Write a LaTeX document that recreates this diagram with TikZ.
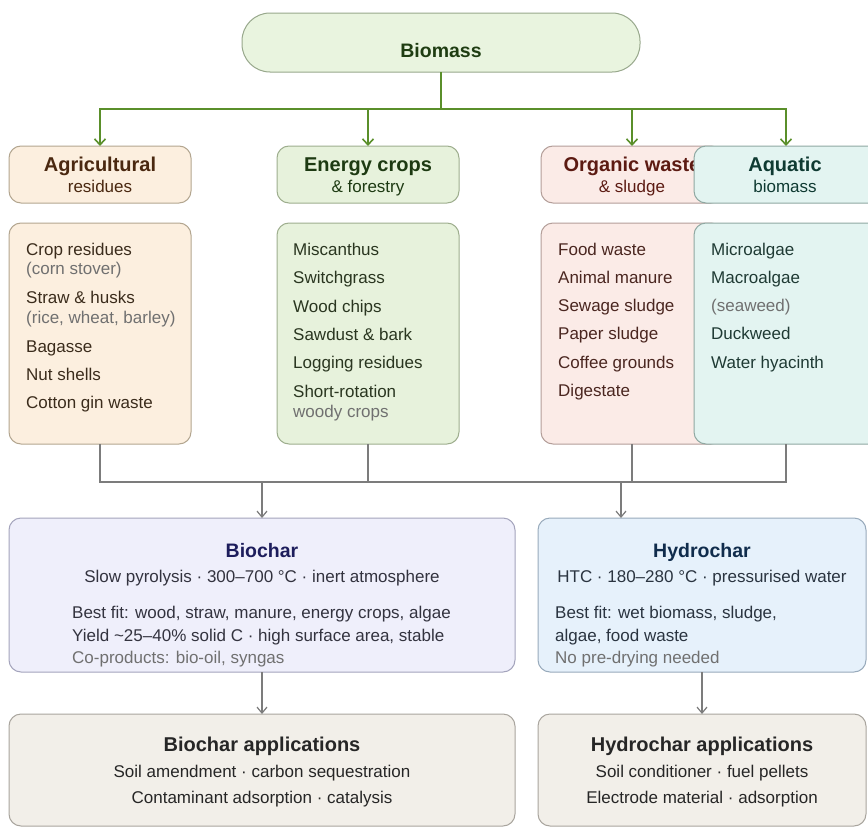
\documentclass[tikz,border=0pt]{standalone}
\usepackage{fontspec}
\setmainfont{Liberation Sans}
\usetikzlibrary{arrows.meta}
\definecolor{bmFill}{HTML}{E9F4DF}\definecolor{bmDraw}{HTML}{98A88C}\definecolor{bmText}{HTML}{1F3D12}
\definecolor{agFill}{HTML}{FCEFDF}\definecolor{agDraw}{HTML}{B3A690}\definecolor{agTitle}{HTML}{4A2810}\definecolor{agText}{HTML}{3B2C1C}
\definecolor{enFill}{HTML}{E7F2DC}\definecolor{enDraw}{HTML}{9EAE8E}\definecolor{enTitle}{HTML}{1D3A12}\definecolor{enText}{HTML}{2A3620}
\definecolor{orFill}{HTML}{FBEBE7}\definecolor{orDraw}{HTML}{B39E99}\definecolor{orTitle}{HTML}{5C1A12}\definecolor{orText}{HTML}{4A2620}
\definecolor{aqFill}{HTML}{E3F4F1}\definecolor{aqDraw}{HTML}{8FA8A2}\definecolor{aqTitle}{HTML}{0F3A32}\definecolor{aqText}{HTML}{1F3A34}
\definecolor{bcFill}{HTML}{EFEFFB}\definecolor{bcDraw}{HTML}{A4A4BC}\definecolor{bcTitle}{HTML}{1D1D5C}\definecolor{bcText}{HTML}{33333F}
\definecolor{hcFill}{HTML}{E6F1FB}\definecolor{hcDraw}{HTML}{98AABB}\definecolor{hcTitle}{HTML}{102C4C}\definecolor{hcText}{HTML}{2A3440}
\definecolor{apFill}{HTML}{F2EFE9}\definecolor{apDraw}{HTML}{A9A59E}\definecolor{apText}{HTML}{262626}
\definecolor{noteGray}{HTML}{707070}
\definecolor{arrGreen}{HTML}{5A8F2A}\definecolor{arrGray}{HTML}{7C7C7C}
\tikzset{
  card/.style={rectangle, rounded corners=12pt, line width=1pt, inner sep=0pt, outer sep=0pt, anchor=north west},
  head/.style={card, minimum width=182pt, minimum height=57pt},
  listbox/.style={card, minimum width=182pt, minimum height=221pt},
  ttl/.style={inner sep=0pt, anchor=base, font=\fontsize{20}{23}\selectfont\bfseries},
  bigttl/.style={inner sep=0pt, anchor=base, font=\fontsize{19.5}{23}\selectfont\bfseries},
  appttl/.style={inner sep=0pt, anchor=base, font=\fontsize{20}{23}\selectfont\bfseries},
  sub/.style={inner sep=0pt, anchor=base, font=\fontsize{17}{20}\selectfont},
  item/.style={inner sep=0pt, anchor=base west, font=\fontsize{17}{20}\selectfont},
  body/.style={inner sep=0pt, anchor=base, font=\fontsize{17}{20}\selectfont},
  bodyl/.style={inner sep=0pt, anchor=base west, font=\fontsize{17}{20}\selectfont},
  gline/.style={draw=arrGreen, line width=1.8pt},
  garrow/.style={gline, -{Straight Barb[length=6pt,width=11pt,line width=1.6pt]}},
  kline/.style={draw=arrGray, line width=1.4pt},
  karrow/.style={kline, -{Straight Barb[length=6pt,width=10pt,line width=1.2pt]}}
}
\begin{document}
\begin{tikzpicture}[x=1pt,y=-1pt]
\clip (0,0) rectangle (868,827);
\fill[white] (0,0) rectangle (868,827);
% Biomass
\node[card, rounded corners=28pt, fill=bmFill, draw=bmDraw, minimum width=398pt, minimum height=59pt] (biomass) at (242,13) {};
\node[bigttl, text=bmText] (tBiomass) at (441,57) {Biomass};
% headers
\node[head, fill=agFill, draw=agDraw] (hAgri) at (9,146) {};
\node[ttl, text=agTitle] (tAgri1) at (100,171) {Agricultural};
\node[sub, text=agTitle] (tAgri2) at (100,192) {residues};
\node[head, fill=enFill, draw=enDraw] (hEner) at (277,146) {};
\node[ttl, text=enTitle] (tEner1) at (368,171) {Energy crops};
\node[sub, text=enTitle] (tEner2) at (368,192) {\& forestry};
\node[head, fill=orFill, draw=orDraw] (hOrg) at (541,146) {};
\node[ttl, text=orTitle] (tOrg1) at (632,171) {Organic waste};
\node[sub, text=orTitle] (tOrg2) at (632,192) {\& sludge};
\node[head, fill=aqFill, draw=aqDraw, minimum width=190pt] (hAqua) at (694,146) {};
\node[ttl, text=aqTitle] (tAqua1) at (785,171) {Aquatic};
\node[sub, text=aqTitle] (tAqua2) at (785,192) {biomass};
% green connectors
\coordinate (gj) at (441,109);
\coordinate (aqIn) at (786,146);
\draw[gline] (gj |- biomass.south) -- (gj);
\draw[gline] (hAgri.north |- gj) -- (aqIn |- gj);
\draw[garrow] (gj) -| (hAgri.north);
\draw[garrow] (gj) -| (hEner.north);
\draw[garrow] (gj) -| (hOrg.north);
\draw[garrow] (gj) -| (aqIn);
% list boxes
\node[listbox, fill=agFill, draw=agDraw] (lAgri) at (9,223) {};
\node[item, text=agText] (a1) at (26,255) {Crop residues};
\node[item, text=noteGray] (a2) at (26,274) {(corn stover)};
\node[item, text=agText] (a3) at (26,303) {Straw \& husks};
\node[item, text=noteGray] (a4) at (26,323) {(rice, wheat, barley)};
\node[item, text=agText] (a5) at (26,352) {Bagasse};
\node[item, text=agText] (a6) at (26,380) {Nut shells};
\node[item, text=agText] (a7) at (26,408) {Cotton gin waste};
\node[listbox, fill=enFill, draw=enDraw] (lEner) at (277,223) {};
\node[item, text=enText] (e1) at (293,255) {Miscanthus};
\node[item, text=enText] (e2) at (293,283) {Switchgrass};
\node[item, text=enText] (e3) at (293,312) {Wood chips};
\node[item, text=enText] (e4) at (293,340) {Sawdust \& bark};
\node[item, text=enText] (e5) at (293,368) {Logging residues};
\node[item, text=enText] (e6) at (293,397) {Short-rotation};
\node[item, text=noteGray] (e7) at (293,417) {woody crops};
\node[listbox, fill=orFill, draw=orDraw] (lOrg) at (541,223) {};
\node[item, text=orText] (o1) at (558,255) {Food waste};
\node[item, text=orText] (o2) at (558,283) {Animal manure};
\node[item, text=orText] (o3) at (558,311) {Sewage sludge};
\node[item, text=orText] (o4) at (558,339) {Paper sludge};
\node[item, text=orText] (o5) at (558,368) {Coffee grounds};
\node[item, text=orText] (o6) at (558,396) {Digestate};
\node[listbox, fill=aqFill, draw=aqDraw, minimum width=190pt] (lAqua) at (694,223) {};
\node[item, text=aqText] (q1) at (711,255) {Microalgae};
\node[item, text=aqText] (q2) at (711,283) {Macroalgae};
\node[item, text=noteGray] (q3) at (711,311) {(seaweed)};
\node[item, text=aqText] (q4) at (711,339) {Duckweed};
\node[item, text=aqText] (q5) at (711,368) {Water hyacinth};
% gray merge
\coordinate (mj) at (441,482);
\draw[kline] (lAgri.south) -- (lAgri.south |- mj) -- (aqIn |- mj) -- (aqIn |- lAqua.south);
\draw[kline] (lEner.south) -- (lEner.south |- mj);
\draw[kline] (lOrg.south) -- (lOrg.south |- mj);
% Biochar / Hydrochar
\node[card, fill=bcFill, draw=bcDraw, minimum width=506pt, minimum height=154pt] (biochar) at (9,518) {};
\node[bigttl, text=bcTitle] (tBc1) at (262,557) {Biochar};
\node[body, text=bcText] (tBc2) at (262,582) {Slow pyrolysis · 300–700 °C · inert atmosphere};
\node[bodyl, text=bcText] (tBc3) at (72,618) {Best fit: wood, straw, manure, energy crops, algae};
\node[bodyl, text=bcText] (tBc4) at (72,641) {Yield \textasciitilde25–40\% solid C · high surface area, stable};
\node[bodyl, text=noteGray] (tBc5) at (72,663) {Co-products: bio-oil, syngas};
\node[card, fill=hcFill, draw=hcDraw, minimum width=328pt, minimum height=154pt] (hydrochar) at (538,518) {};
\node[bigttl, text=hcTitle] (tHc1) at (702,557) {Hydrochar};
\node[body, text=hcText] (tHc2) at (702,582) {HTC · 180–280 °C · pressurised water};
\node[bodyl, text=hcText] (tHc3) at (555,618) {Best fit: wet biomass, sludge,};
\node[bodyl, text=hcText] (tHc4) at (555,641) {algae, food waste};
\node[bodyl, text=noteGray] (tHc5) at (555,663) {No pre-drying needed};
\coordinate (hin) at (621,482);
\draw[karrow] (biochar.north |- mj) -- (biochar.north);
\draw[karrow] (hin) -- (hin |- hydrochar.north);
% applications
\node[card, fill=apFill, draw=apDraw, minimum width=506pt, minimum height=112pt] (bApp) at (9,714) {};
\node[appttl, text=apText] (tBa1) at (262,751) {Biochar applications};
\node[body, text=apText] (tBa2) at (262,777) {Soil amendment · carbon sequestration};
\node[body, text=apText] (tBa3) at (262,803) {Contaminant adsorption · catalysis};
\node[card, fill=apFill, draw=apDraw, minimum width=328pt, minimum height=112pt] (hApp) at (538,714) {};
\node[appttl, text=apText] (tHa1) at (702,751) {Hydrochar applications};
\node[body, text=apText] (tHa2) at (702,777) {Soil conditioner · fuel pellets};
\node[body, text=apText] (tHa3) at (702,803) {Electrode material · adsorption};
\draw[karrow] (biochar.south) -- (bApp.north);
\draw[karrow] (hydrochar.south) -- (hApp.north);
\end{tikzpicture}
\end{document}
